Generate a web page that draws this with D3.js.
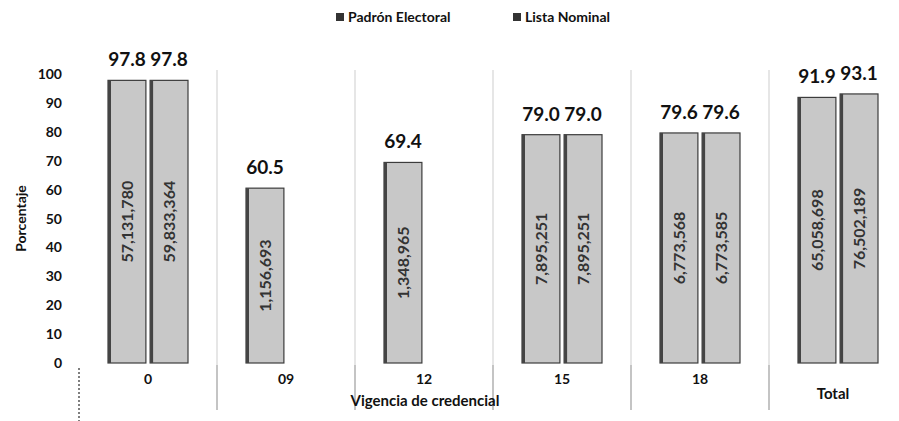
<!DOCTYPE html>
<html>
<head>
<meta charset="utf-8">
<script src="https://cdn.jsdelivr.net/npm/d3@7"></script>
<style>
  body { margin: 0; background: #fff; }
  svg text { font-family: Lato, "Liberation Sans", sans-serif; fill: #111; }
  .tick-lbl { font-size: 14px; font-weight: bold; }
  .title { font-size: 15px; font-weight: bold; }
  .val { font-size: 19px; font-weight: bold; }
  .inner { font-size: 16px; font-weight: bold; fill: #333; }
  .legend { font-size: 14px; font-weight: bold; }
</style>
</head>
<body>
<svg id="chart" width="899" height="421"></svg>
<script>
// data
var categories = ["0", "09", "12", "15", "18", "Total"];
var seriesNames = ["Padrón Electoral", "Lista Nominal"];
var padron = [97.8, 60.5, 69.4, 79.0, 79.6, 91.9];
var lista = [97.8, null, null, 79.0, 79.6, 93.1];
var padronCounts = ["57,131,780", "1,156,693", "1,348,965", "7,895,251", "6,773,568", "65,058,698"];
var listaCounts = ["59,833,364", "", "", "7,895,251", "6,773,585", "76,502,189"];
var yTicks = [0, 10, 20, 30, 40, 50, 60, 70, 80, 90, 100];

var svg = d3.select("#chart");

var x0 = d3.scaleBand().domain(categories).range([79, 907]).padding(0);
var x1 = d3.scaleBand().domain(seriesNames)
  .range([x0.bandwidth() / 2 - 40, x0.bandwidth() / 2 + 40]).paddingInner(0.1);
var y = d3.scaleLinear().domain([0, 100]).range([363, 74]);

// faint group separators (scan ghosts of the category axis)
var bounds = categories.slice(1).map(function(c) { return x0(c); });
svg.selectAll(".sep").data(bounds).enter().append("line")
  .attr("x1", function(d) { return d; }).attr("x2", function(d) { return d; })
  .attr("y1", 70).attr("y2", 410)
  .attr("stroke", "#e6e6e6").attr("stroke-width", 2);
svg.selectAll(".sepb").data(bounds).enter().append("line")
  .attr("x1", function(d) { return d; }).attr("x2", function(d) { return d; })
  .attr("y1", 365).attr("y2", 410)
  .attr("stroke", "#c4c4c4").attr("stroke-width", 2);
svg.append("line")
  .attr("x1", x0.range()[0]).attr("x2", x0.range()[0])
  .attr("y1", 368).attr("y2", 421)
  .attr("stroke", "#555").attr("stroke-width", 1.5).attr("stroke-dasharray", "2,2");

// y axis labels
svg.selectAll(".ytick").data(yTicks).enter().append("text")
  .attr("class", "tick-lbl")
  .attr("x", 62).attr("y", function(d) { return y(d) + 5; })
  .attr("text-anchor", "end")
  .text(function(d) { return d; });

svg.append("text").attr("class", "tick-lbl")
  .attr("transform", "translate(26," + y(50) + ") rotate(-90)")
  .attr("text-anchor", "middle")
  .text("Porcentaje");

// bars
var rows = categories.map(function(c, i) {
  return [
    { cat: c, s: seriesNames[0], v: padron[i], n: padronCounts[i] },
    { cat: c, s: seriesNames[1], v: lista[i], n: listaCounts[i] }
  ].filter(function(d) { return d.v != null; });
});
var all = [].concat.apply([], rows);

var g = svg.append("g");
g.selectAll("rect").data(all).enter().append("rect")
  .attr("x", function(d) { return x0(d.cat) + x1(d.s); })
  .attr("y", function(d) { return y(d.v); })
  .attr("width", x1.bandwidth())
  .attr("height", function(d) { return y(0) - y(d.v); })
  .attr("fill", "#c8c8c8")
  .attr("stroke", "#3c3c3c").attr("stroke-width", 1.2);

// dark left edge, like the scan
g.selectAll(".edge").data(all).enter().append("rect")
  .attr("x", function(d) { return x0(d.cat) + x1(d.s); })
  .attr("y", function(d) { return y(d.v); })
  .attr("width", 3)
  .attr("height", function(d) { return y(0) - y(d.v); })
  .attr("fill", "#444");

g.selectAll(".val").data(all).enter().append("text")
  .attr("class", "val")
  .attr("x", function(d) { return x0(d.cat) + x1(d.s) + x1.bandwidth() / 2; })
  .attr("y", function(d) { return y(d.v) - 14; })
  .attr("text-anchor", "middle")
  .text(function(d) { return d.v.toFixed(1); });

g.selectAll(".inner").data(all).enter().append("text")
  .attr("class", "inner")
  .attr("transform", function(d) {
    var cx = x0(d.cat) + x1(d.s) + x1.bandwidth() / 2 + 6;
    var cy = y(d.v / 2);
    return "translate(" + cx + "," + cy + ") rotate(-90)";
  })
  .attr("text-anchor", "middle")
  .text(function(d) { return d.n; });

// category labels
svg.selectAll(".cat").data(categories.slice(0, 5)).enter().append("text")
  .attr("class", "tick-lbl")
  .attr("x", function(d) { return x0(d) + x0.bandwidth() / 2; })
  .attr("y", 384)
  .attr("text-anchor", "middle")
  .text(function(d) { return d; });

svg.append("text").attr("class", "title")
  .attr("x", x0("Total") + x0.bandwidth() / 2 - 5).attr("y", 399)
  .attr("text-anchor", "middle").text("Total");

svg.append("text").attr("class", "title")
  .attr("x", 425).attr("y", 406)
  .attr("text-anchor", "middle").text("Vigencia de credencial");

// legend
var legend = svg.selectAll(".legend").data(seriesNames).enter().append("g")
  .attr("class", "legend")
  .attr("transform", function(d, i) { return "translate(" + (336 + i * 177) + ",12)"; });
legend.append("rect").attr("width", 8).attr("height", 8).attr("y", 1).attr("fill", "#333");
legend.append("text").attr("x", 12).attr("y", 10).text(function(d) { return d; });
</script>
</body>
</html>
